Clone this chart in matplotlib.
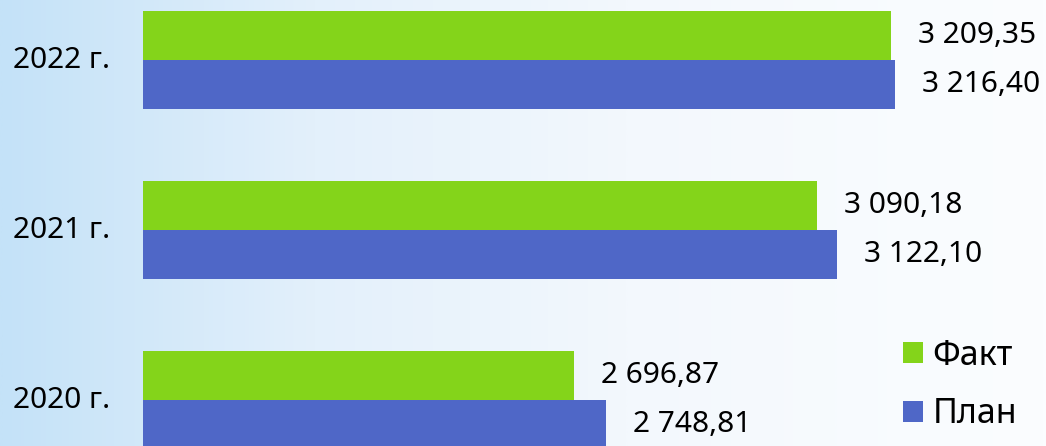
import matplotlib
matplotlib.use("Agg")
import matplotlib.pyplot as plt
import numpy as np
from matplotlib.colors import LinearSegmentedColormap

categories = ["2020 г.", "2021 г.", "2022 г."]
fact = [2696.87, 3090.18, 3209.35]
plan = [2748.81, 3122.10, 3216.40]
fact_labels = ["2 696,87", "3 090,18", "3 209,35"]
plan_labels = ["2 748,81", "3 122,10", "3 216,40"]

FONT = "Noto Sans"
plt.rcParams["font.family"] = [FONT, "DejaVu Sans"]

W, H = 1046, 446
fig = plt.figure(figsize=(W / 100, H / 100), dpi=100)

# background gradient
bg = fig.add_axes([0, 0, 1, 1], zorder=-10)
cmap = LinearSegmentedColormap.from_list(
    "bg", [(0.0, "#C4E2F8"), (0.3, "#E3F0FB"), (0.6, "#F3F8FD"), (1.0, "#FBFDFF")])
grad = np.linspace(0, 1, 512)[None, :]
bg.imshow(grad, aspect="auto", cmap=cmap, extent=[0, 1, 0, 1])
bg.axis("off")

x0 = 143 / W
ax = fig.add_axes([x0, 0, 1 - x0, 1])
ax.patch.set_alpha(0)
k = 0.6182  # px per unit
xmin = 2000
xmax = xmin + (W - 143) / k
ax.set_xlim(xmin, xmax)
ax.set_ylim((400 - 446) / 170, 400 / 170)

y = np.arange(len(categories))
h = 49 / 170
green = "#84D41A"
blue = "#4F67C7"
b1 = ax.barh(y + h / 2, np.array(fact) - xmin, left=xmin, height=h, color=green, label="Факт")
b2 = ax.barh(y - h / 2, np.array(plan) - xmin, left=xmin, height=h, color=blue, label="План")

fs = 21.5
for yi, v, lab in zip(y + h / 2, fact, fact_labels):
    ax.annotate(lab, (v, yi), xytext=(27, 0), textcoords="offset pixels",
                ha="left", va="center", fontsize=fs, color="black")
for yi, v, lab in zip(y - h / 2, plan, plan_labels):
    ax.annotate(lab, (v, yi), xytext=(27, 0), textcoords="offset pixels",
                ha="left", va="center", fontsize=fs, color="black")

ax.set_yticks(y + 0.015)
ax.set_yticklabels(categories, fontsize=fs)
ax.tick_params(axis="y", length=0, pad=23.5)
ax.set_xticks([])
for s in ax.spines.values():
    s.set_visible(False)

leg = ax.legend(handles=[b1, b2], loc="lower right", bbox_to_anchor=(0.9866, 0.0),
                bbox_transform=fig.transFigure, frameon=False, fontsize=24.5,
                handlelength=0.6, handleheight=0.6, handletextpad=0.28,
                labelspacing=0.73, borderaxespad=0.03)

fig.savefig("out.png", dpi=100)
